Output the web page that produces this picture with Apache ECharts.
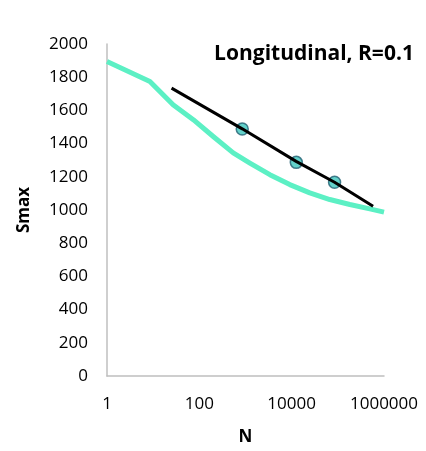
<!DOCTYPE html>
<html>
<head>
<meta charset="utf-8">
<script src="https://cdn.jsdelivr.net/npm/echarts@6/dist/echarts.min.js"></script>
<style>
  html, body { margin: 0; padding: 0; background: #fff; }
  #chart { width: 426px; height: 451px; }
</style>
</head>
<body>
<div id="chart"></div>
<script>
// S-N curve, longitudinal direction, stress ratio R = 0.1
const curveN    = [1, 8.5, 27, 74, 200, 542, 1245, 3370, 9100, 24700, 67000, 182000, 493000, 1000000];
const curveS    = [1894, 1774, 1634, 1544, 1443, 1344, 1283, 1213, 1153, 1103, 1063, 1033, 1007, 987];

const fitN      = [25, 850, 12500, 85000, 580000];
const fitS      = [1734, 1489, 1293, 1167, 1023];

const testN     = [850, 12600, 85000];
const testS     = [1488, 1287, 1167];

const yTicks    = { min: 0, max: 2000, step: 200 };
const xTicks    = { min: 1, max: 1000000, base: 100 };

const pairs = (xs, ys) => xs.map((x, i) => [x, ys[i]]);
const font = '"Open Sans", Lato, sans-serif';

const chart = echarts.init(document.getElementById('chart'), null, { renderer: 'canvas' });
chart.setOption({
  backgroundColor: '#ffffff',
  animation: false,
  title: {
    text: 'Longitudinal, R=0.1',
    left: 309,
    top: 39,
    textAlign: 'center',
    textStyle: { fontFamily: font, fontSize: 21, fontWeight: 'bold', color: '#000' }
  },
  grid: { left: 107, right: 42, top: 44, bottom: 74 },
  xAxis: {
    type: 'log',
    logBase: xTicks.base,
    min: xTicks.min,
    max: xTicks.max,
    name: 'N',
    nameLocation: 'middle',
    nameGap: 53,
    nameTextStyle: { fontFamily: font, fontSize: 17, fontWeight: 'bold', color: '#000' },
    axisLine: { show: true, lineStyle: { color: '#bfbfbf', width: 1.5 } },
    axisTick: { show: false },
    splitLine: { show: false },
    axisLabel: {
      margin: 20,
      fontFamily: font, fontSize: 17, color: '#000',
      formatter: v => String(Math.round(v))
    }
  },
  yAxis: {
    type: 'value',
    min: yTicks.min,
    max: yTicks.max,
    interval: yTicks.step,
    name: 'Smax',
    nameLocation: 'middle',
    nameGap: 74,
    nameRotate: 90,
    nameTextStyle: { fontFamily: font, fontSize: 17, fontWeight: 'bold', color: '#000' },
    axisLine: { show: true, lineStyle: { color: '#bfbfbf', width: 1.5 } },
    axisTick: { show: false },
    splitLine: { show: false },
    axisLabel: {
      margin: 19, fontFamily: font, fontSize: 17, color: '#000',
      formatter: v => String(v)
    }
  },
  series: [
    {
      type: 'line',
      data: pairs(curveN, curveS),
      showSymbol: false,
      lineStyle: { color: '#5cf0c4', width: 5, join: 'round' },
      z: 1
    },
    {
      type: 'scatter',
      data: pairs(testN, testS),
      symbol: 'circle',
      symbolSize: 12,
      itemStyle: { color: '#3cc6bd', borderColor: '#215f72', borderWidth: 1.5 },
      z: 2
    },
    {
      type: 'line',
      data: pairs(fitN, fitS),
      showSymbol: false,
      lineStyle: { color: '#000', width: 3 },
      z: 3
    }
  ]
});
</script>
</body>
</html>
